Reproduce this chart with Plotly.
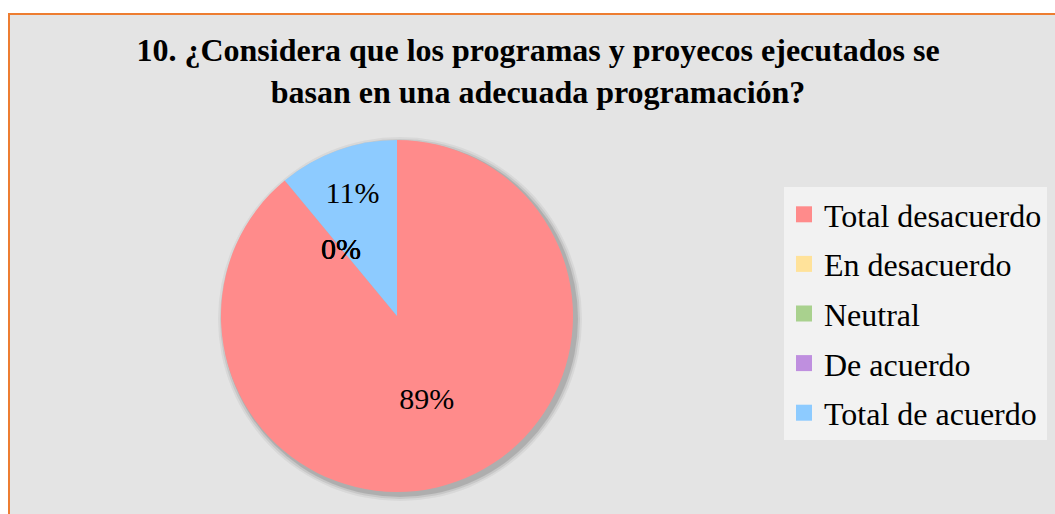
import math
import plotly.graph_objects as go

W, H = 1055, 514

TITLE = ("10. ¿Considera que los programas y proyecos ejecutados se<br>"
         "basan en una adecuada programación?")
labels = ["Total desacuerdo", "En desacuerdo", "Neutral", "De acuerdo", "Total de acuerdo"]
values = [89, 0, 0, 0, 11]
colors = ["#ff8b8b", "#ffe29a", "#a9d18e", "#bf8fdf", "#8dcbff"]

SERIF = "Liberation Serif, Times New Roman, serif"

# pie placement, in px of the 1055x514 page
cx, cy, r = 397, 316, 176


def px_x(v):
    return v / W


def px_y(v):
    return 1 - v / H


fig = go.Figure()

fig.add_trace(
    go.Pie(
        labels=labels,
        values=values,
        marker=dict(colors=colors, line=dict(width=0)),
        sort=False,
        direction="clockwise",
        rotation=0,
        texttemplate=["%{percent:.0%}" if v else "" for v in values],
        textposition="inside",
        insidetextorientation="horizontal",
        textfont=dict(family=SERIF, size=30, color="black"),
        domain=dict(x=[px_x(cx - r), px_x(cx + r)], y=[px_y(cy + r), px_y(cy - r)]),
        showlegend=False,
        hoverinfo="label+percent",
    )
)

# legend entries as empty marker traces so the row spacing can be set
for lab, col in zip(labels, colors):
    fig.add_trace(
        go.Scatter(
            x=[None], y=[None], mode="markers",
            marker=dict(symbol="square", size=16, color=col),
            name=lab, legendgroup=lab, showlegend=True,
        )
    )

shapes = [
    # chart area with orange border
    dict(type="rect", xref="paper", yref="paper", x0=px_x(9), x1=1.01, y0=-0.05, y1=px_y(14),
         fillcolor="#e4e4e4", line=dict(color="#ed7d31", width=2), layer="below"),
]
# soft drop shadow behind the pie
for d, a in [(6, 0.05), (4, 0.08), (2, 0.12)]:
    shapes.append(
        dict(type="circle", xref="paper", yref="paper",
             x0=px_x(cx - r - d + 3), x1=px_x(cx + r + d + 3),
             y0=px_y(cy + r + d + 3), y1=px_y(cy - r - d + 3),
             fillcolor=f"rgba(0,0,0,{a})", line=dict(width=0), layer="below")
    )

# zero slices get their label at the slice boundary
total = sum(values)
annotations = []
cum = 0
for v in values:
    if v == 0:
        ang = math.radians(cum / total * 360)
        annotations.append(
            dict(x=px_x(cx + 0.5 * r * math.sin(ang)), y=px_y(cy - 0.5 * r * math.cos(ang)),
                 xref="paper", yref="paper", xanchor="center", yanchor="middle",
                 text="0%", showarrow=False,
                 font=dict(family=SERIF, size=30, color="black"))
        )
    cum += v

fig.update_layout(
    width=W,
    height=H,
    margin=dict(l=0, r=0, t=0, b=0),
    paper_bgcolor="white",
    plot_bgcolor="rgba(0,0,0,0)",
    xaxis=dict(visible=False),
    yaxis=dict(visible=False),
    shapes=shapes,
    annotations=annotations,
    title=dict(
        text=f"<b>{TITLE}</b>",
        x=0.51, xanchor="center",
        y=px_y(61), yanchor="top",
        font=dict(family=SERIF, size=32, color="black"),
    ),
    legend=dict(
        x=px_x(784), xanchor="left",
        y=px_y(187), yanchor="top",
        bgcolor="#f2f2f2",
        font=dict(family=SERIF, size=32, color="black"),
        tracegroupgap=5,
        itemsizing="trace",
    ),
    font=dict(family=SERIF),
)

fig.write_html("out.html", config={"displayModeBar": False},
               post_script="document.body.style.margin='0';")
